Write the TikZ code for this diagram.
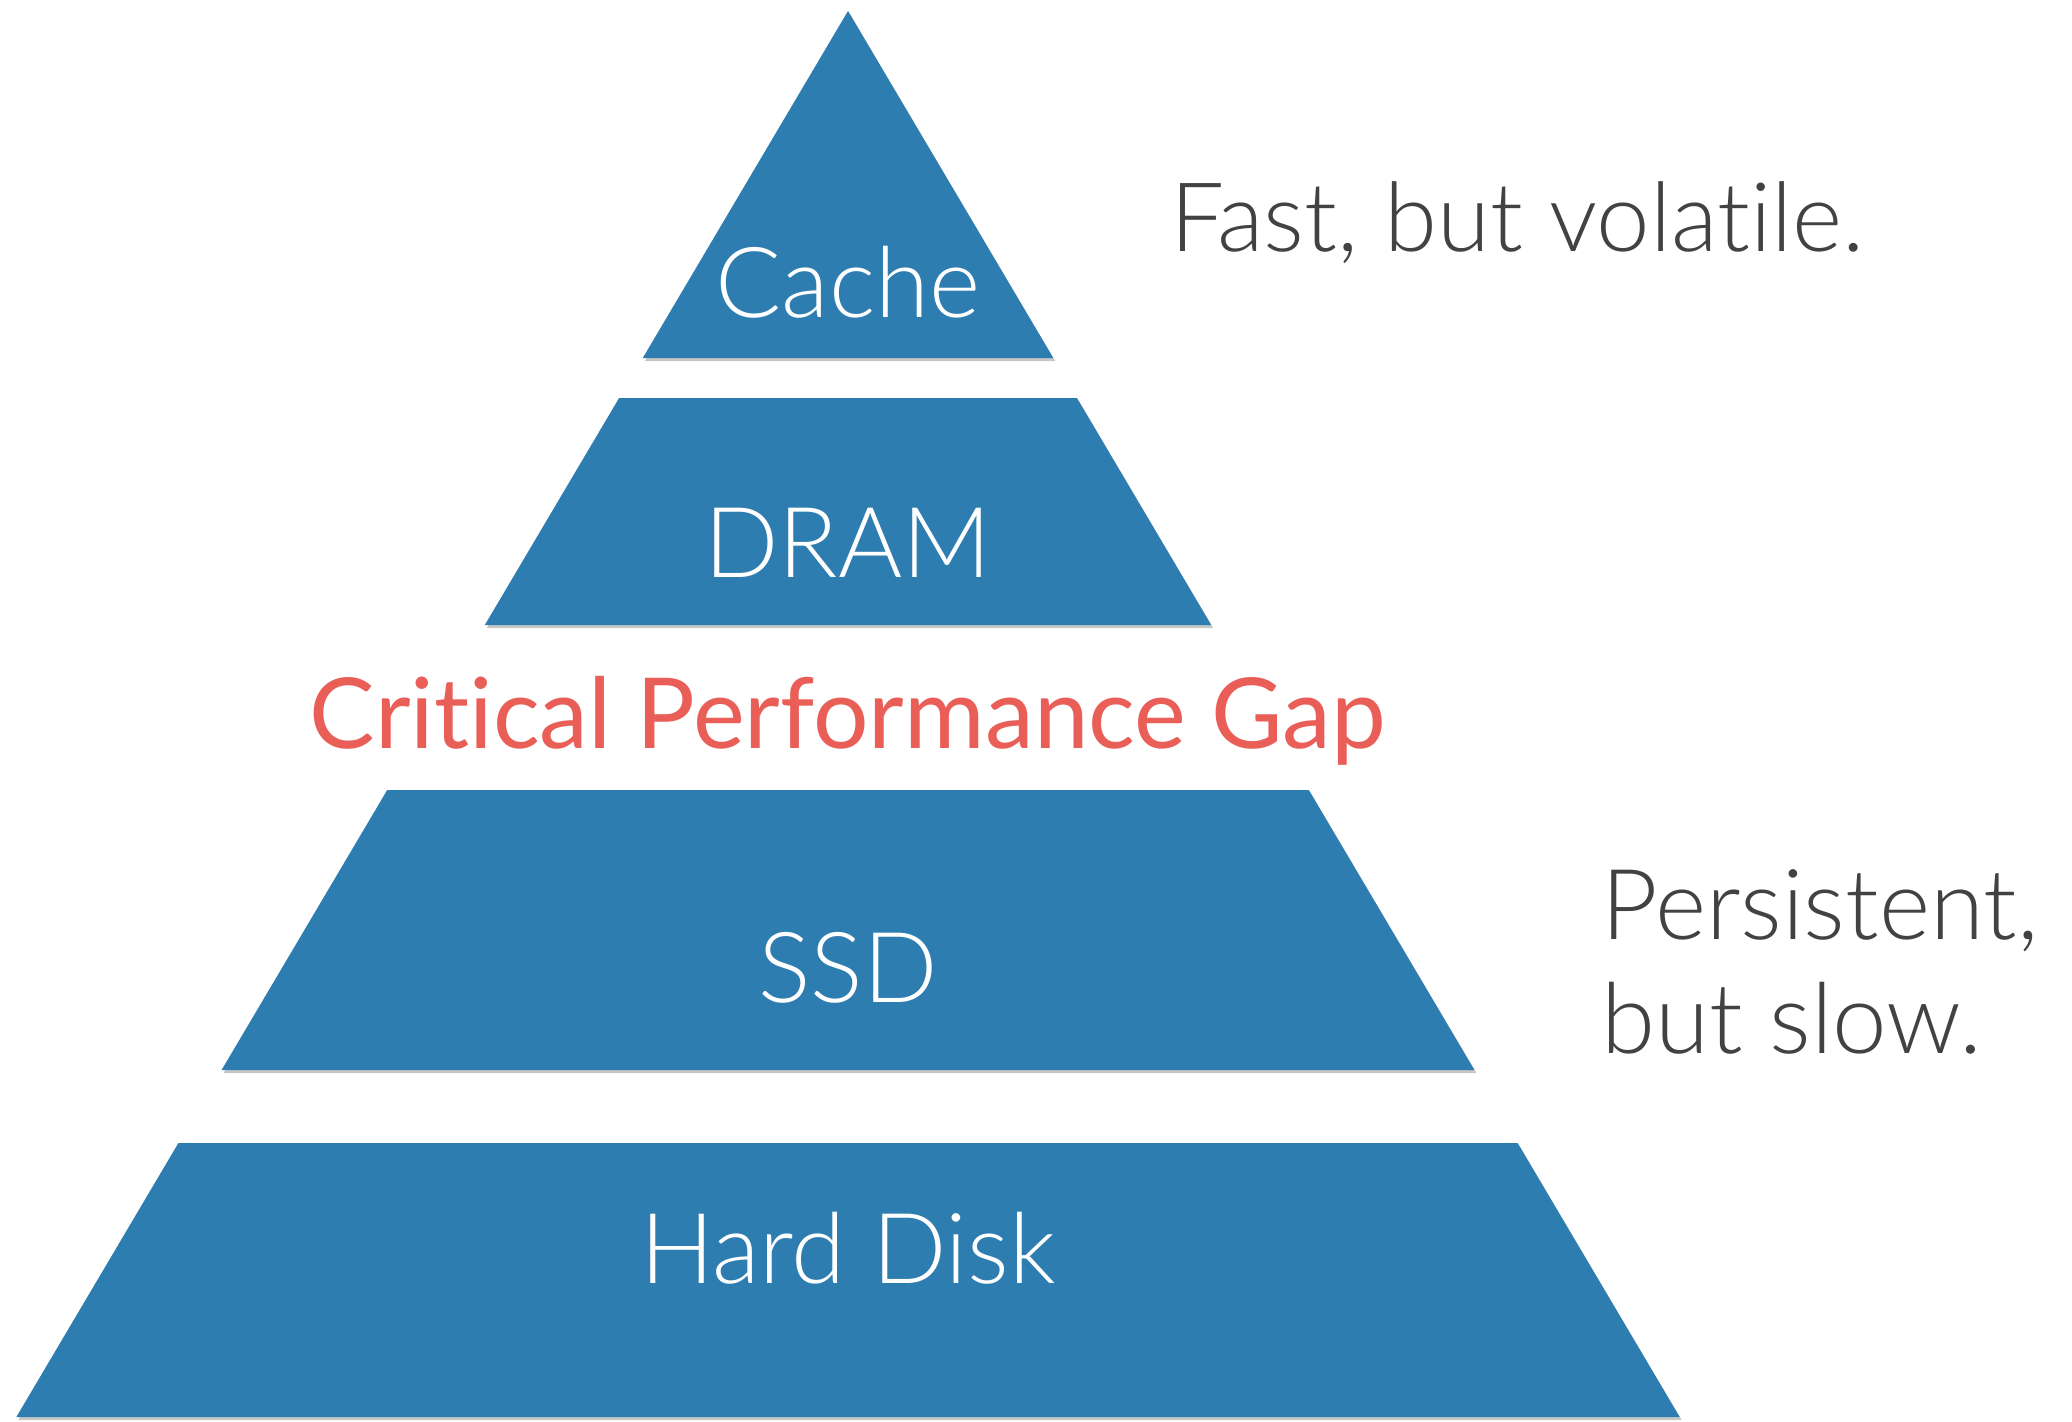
\documentclass[tikz,border=0pt]{standalone}
\usepackage{fontspec}
\setmainfont{Lato}[Ligatures=NoCommon]
\newfontfamily\lightfont{Lato Light}[Ligatures=NoCommon]
\definecolor{tierblue}{RGB}{45,125,177}
\definecolor{gapred}{RGB}{234,94,88}
\definecolor{notegray}{RGB}{66,66,66}
% one slice of the storage pyramid, between two heights (apex at x=848, y=11)
\newcommand\tierpath[2]{({848-0.5915*(#1-11)},#1) -- ({848+0.5915*(#1-11)},#1) -- ({848+0.5915*(#2-11)},#2) -- ({848-0.5915*(#2-11)},#2) -- cycle}
\tikzset{
  tier/.style={fill=tierblue},
  tiershadow/.style={fill=black,opacity=0.22},
  tierlabel/.style={anchor=base,text=white,inner sep=0pt,font=\lightfont\fontsize{49}{59}\selectfont},
  gaplabel/.style={anchor=base,text=gapred,inner sep=0pt,font=\fontsize{49}{59}\selectfont},
  notelabel/.style={anchor=base west,text=notegray,inner sep=0pt,align=left,font=\lightfont\fontsize{48}{57}\selectfont},
}
\begin{document}
\begin{tikzpicture}[x=0.5pt,y=-0.5pt]
  \useasboundingbox[fill=white] (0,0) rectangle (2072,1421);
  % soft drop shadows under the tiers
  \begin{scope}[shift={(2,3)}]
    \fill[tiershadow] \tierpath{11}{358};
    \fill[tiershadow] \tierpath{398}{625};
    \fill[tiershadow] \tierpath{790}{1070};
    \fill[tiershadow] \tierpath{1143}{1417};
  \end{scope}
  % the tiers
  \fill[tier] \tierpath{11}{358};
  \fill[tier] \tierpath{398}{625};
  \fill[tier] \tierpath{790}{1070};
  \fill[tier] \tierpath{1143}{1417};
  % tier labels
  \node[tierlabel] (cache) at (848,317) {Cache};
  \node[tierlabel] (dram) at (848,577) {DRAM};
  \node[gaplabel] (gap) at (848,748) {Critical Performance Gap};
  \node[tierlabel] (ssd) at (848,1002) {SSD};
  \node[tierlabel] (hdd) at (848,1283) {Hard Disk};
  % side notes
  \node[notelabel] (fast) at (1170,251) {Fast, but volatile.};
  \node[notelabel,font=\lightfont\fontsize{49}{57}\selectfont] (slow) at (1601,1053) {Persistent,\\but slow.};
\end{tikzpicture}
\end{document}
